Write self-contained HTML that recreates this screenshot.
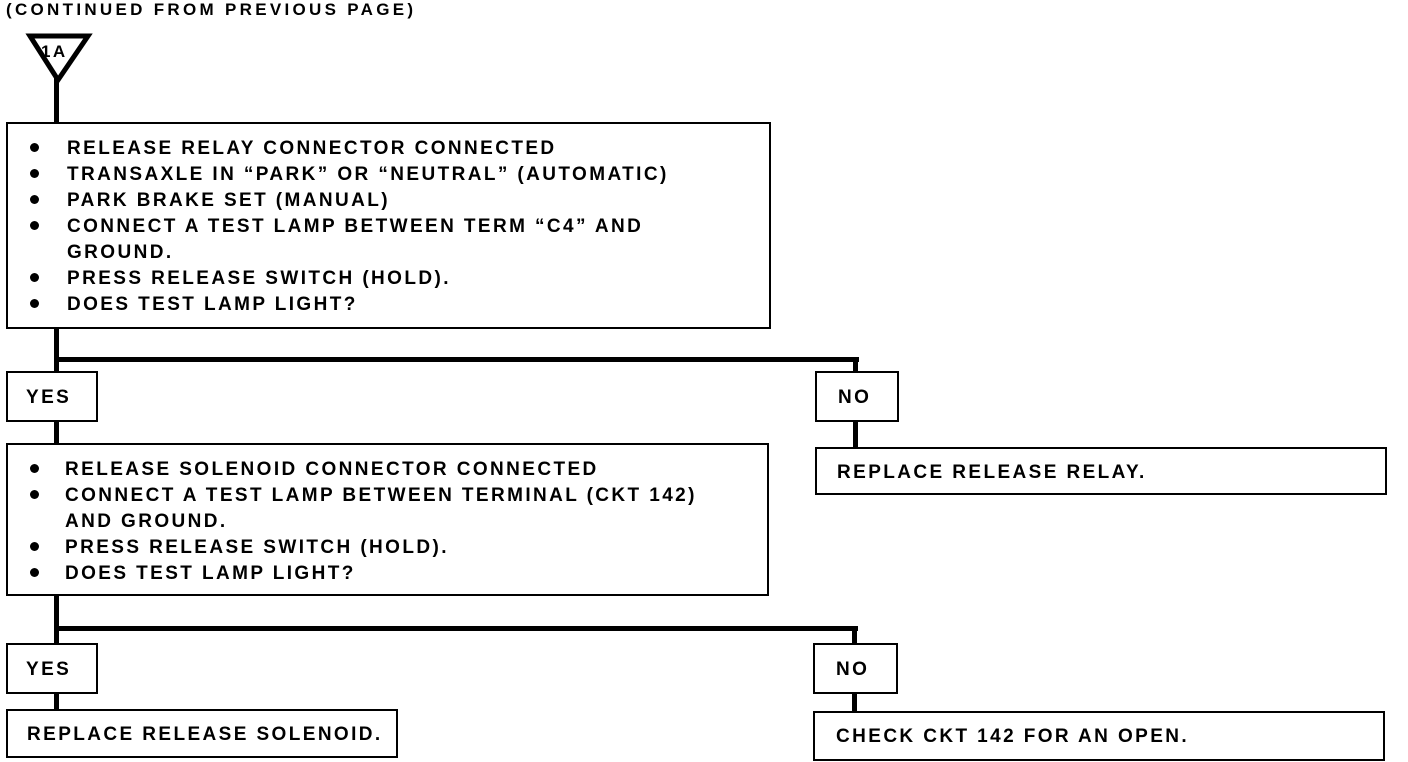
<!DOCTYPE html><html><head><style>
body{margin:0;width:1408px;height:762px;background:#fff;position:relative;overflow:hidden;font-family:"Liberation Sans",Arial,sans-serif;font-weight:bold;font-size:19px;letter-spacing:2.4px;color:#000}
.b{position:absolute;border:2px solid #000;box-sizing:border-box;background:#fff}
.l{position:absolute;background:#000}
.t{position:absolute;white-space:nowrap;line-height:26px}
.bl{position:absolute;width:9px;height:9px;border-radius:50%;background:#000}
</style></head><body>
<div class="t" style="left:6px;top:-3px;font-size:17px;letter-spacing:3.3px">(CONTINUED FROM PREVIOUS PAGE)</div>
<svg style="position:absolute;left:0;top:0" width="120" height="130">
<polygon points="30,36 88,36 58,80" fill="#fff" stroke="#000" stroke-width="5" stroke-linejoin="miter"/>
<text x="41" y="57" font-family="Liberation Sans" font-weight="bold" font-size="17">1A</text>
<rect x="54" y="78" width="5" height="46" fill="#000"/>
</svg>
<div class="b" style="left:6px;top:122px;width:765px;height:207px"></div>
<div class="t" style="left:67px;top:136px">RELEASE RELAY CONNECTOR CONNECTED<br>TRANSAXLE IN “PARK” OR “NEUTRAL” (AUTOMATIC)<br>PARK BRAKE SET (MANUAL)<br>CONNECT A TEST LAMP BETWEEN TERM “C4” AND<br>GROUND.<br>PRESS RELEASE SWITCH (HOLD).<br>DOES TEST LAMP LIGHT?</div>
<div class="bl" style="left:30px;top:143px"></div><div class="bl" style="left:30px;top:169px"></div><div class="bl" style="left:30px;top:195px"></div><div class="bl" style="left:30px;top:221px"></div><div class="bl" style="left:30px;top:273px"></div><div class="bl" style="left:30px;top:299px"></div>
<div class="l" style="left:54px;top:328px;width:5px;height:44px"></div>
<div class="l" style="left:54px;top:357px;width:805px;height:5px"></div>
<div class="l" style="left:853px;top:357px;width:5px;height:15px"></div>
<div class="b" style="left:6px;top:371px;width:92px;height:51px"></div><div class="t" style="left:26px;top:385px">YES</div>
<div class="b" style="left:815px;top:371px;width:84px;height:51px"></div><div class="t" style="left:838px;top:385px">NO</div>
<div class="l" style="left:54px;top:421px;width:5px;height:23px"></div>
<div class="l" style="left:853px;top:421px;width:5px;height:27px"></div>
<div class="b" style="left:815px;top:447px;width:572px;height:48px"></div><div class="t" style="left:837px;top:460px">REPLACE RELEASE RELAY.</div>
<div class="b" style="left:6px;top:443px;width:763px;height:153px"></div>
<div class="t" style="left:65px;top:457px">RELEASE SOLENOID CONNECTOR CONNECTED<br>CONNECT A TEST LAMP BETWEEN TERMINAL (CKT 142)<br>AND GROUND.<br>PRESS RELEASE SWITCH (HOLD).<br>DOES TEST LAMP LIGHT?</div>
<div class="bl" style="left:30px;top:464px"></div><div class="bl" style="left:30px;top:490px"></div><div class="bl" style="left:30px;top:542px"></div><div class="bl" style="left:30px;top:568px"></div>
<div class="l" style="left:54px;top:595px;width:5px;height:49px"></div>
<div class="l" style="left:54px;top:626px;width:804px;height:5px"></div>
<div class="l" style="left:852px;top:626px;width:5px;height:18px"></div>
<div class="b" style="left:6px;top:643px;width:92px;height:51px"></div><div class="t" style="left:26px;top:657px">YES</div>
<div class="b" style="left:813px;top:643px;width:85px;height:51px"></div><div class="t" style="left:836px;top:657px">NO</div>
<div class="l" style="left:54px;top:693px;width:5px;height:17px"></div>
<div class="l" style="left:852px;top:693px;width:5px;height:19px"></div>
<div class="b" style="left:6px;top:709px;width:392px;height:49px"></div><div class="t" style="left:27px;top:722px">REPLACE RELEASE SOLENOID.</div>
<div class="b" style="left:813px;top:711px;width:572px;height:50px"></div><div class="t" style="left:836px;top:724px">CHECK CKT 142 FOR AN OPEN.</div>
</body></html>
